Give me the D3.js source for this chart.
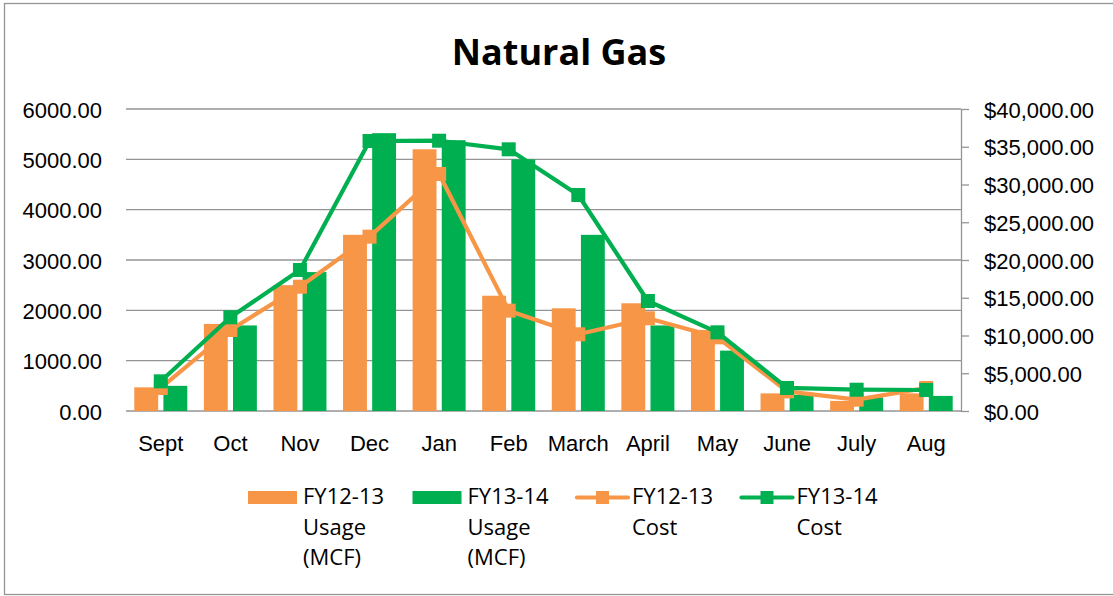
<!DOCTYPE html>
<html>
<head>
<meta charset="UTF-8">
<title>Natural Gas</title>
<style>
body {
	margin: 0 ;
	background-color: #ffffff ;
	font-family: "Open Sans", "Noto Sans", Arial, sans-serif ;
}
.grid line {
	stroke: #959595 ;
	stroke-width: 1.3 ;
}
.lbl {
	font-size: 22px ;
	fill: #000000 ;
}
</style>
<script src="https://cdn.jsdelivr.net/npm/d3@7/dist/d3.min.js"></script>
</head>
<body>
<div id="chart"></div>

<script type="text/javascript" charset="utf-8">

	// values
	var months = [ "Sept", "Oct", "Nov", "Dec", "Jan", "Feb", "March", "April", "May", "June", "July", "Aug" ] ;
	var usage1213 = [ 470, 1730, 2500, 3500, 5200, 2290, 2040, 2140, 1610, 350, 200, 350 ] ;
	var usage1314 = [ 500, 1700, 2760, 5520, 5380, 5000, 3500, 1700, 1200, 320, 270, 300 ] ;
	var cost1213 = [ 3050, 10730, 16460, 23090, 31390, 13290, 10160, 12280, 9760, 2600, 1500, 3050 ] ;
	var cost1314 = [ 3930, 12410, 18675, 35760, 35800, 34660, 28610, 14570, 10420, 3050, 2820, 2780 ] ;
	var usageTicks = [ 0, 1000, 2000, 3000, 4000, 5000, 6000 ] ;
	var costTicks = [ 0, 5000, 10000, 15000, 20000, 25000, 30000, 35000, 40000 ] ;

	var legendItems = [
		{ kind: "bar", color: "#F79646", lines: [ "FY12-13", "Usage", "(MCF)" ] },
		{ kind: "bar", color: "#00B050", lines: [ "FY13-14", "Usage", "(MCF)" ] },
		{ kind: "line", color: "#F79646", lines: [ "FY12-13", "Cost" ] },
		{ kind: "line", color: "#00B050", lines: [ "FY13-14", "Cost" ] }
	] ;

	var orange = "#F79646" ;
	var green = "#00B050" ;

	var width = 1113 ;
	var height = 596 ;
	var plot = { left: 126, right: 961, top: 109, bottom: 411 } ;

	var svg = d3.select( "#chart" ).append( "svg" )
		.attr( "width", width )
		.attr( "height", height ) ;

	svg.append( "rect" )
		.attr( "x", 4.5 ).attr( "y", 3.5 )
		.attr( "width", 1120 ).attr( "height", 591 )
		.attr( "fill", "#ffffff" )
		.attr( "stroke", "#959595" )
		.attr( "stroke-width", 1.3 ) ;

	var x = d3.scaleBand()
		.domain( months )
		.range( [ plot.left, plot.right ] ) ;

	// offsets of the two bars inside one month
	var xs = d3.scaleBand()
		.domain( [ "FY12-13", "FY13-14" ] )
		.range( [ -26.5, 26.5 ] )
		.paddingInner( 0.18 ) ;

	var yUse = d3.scaleLinear()
		.domain( [ 0, 6000 ] )
		.range( [ plot.bottom, plot.top ] ) ;

	var yCost = d3.scaleLinear()
		.domain( [ 0, 40000 ] )
		.range( [ plot.bottom, plot.top ] ) ;

	function cx( m ) { return x( m ) + x.bandwidth() / 2 ; }

	// title
	svg.append( "text" )
		.attr( "x", 559 )
		.attr( "y", 65 )
		.attr( "text-anchor", "middle" )
		.attr( "font-size", "36px" )
		.attr( "font-weight", "bold" )
		.text( "Natural Gas" ) ;

	// gridlines
	svg.append( "g" )
		.attr( "class", "grid" )
		.selectAll( "line" )
		.data( usageTicks )
		.enter()
			.append( "line" )
				.attr( "x1", plot.left )
				.attr( "x2", plot.right )
				.attr( "y1", function(d) { return yUse( d ) ; } )
				.attr( "y2", function(d) { return yUse( d ) ; } ) ;

	// left axis labels
	var leftAxis = d3.axisLeft( yUse )
		.tickValues( usageTicks )
		.tickFormat( d3.format( ".2f" ) )
		.tickSize( 0 )
		.tickPadding( 0 ) ;
	var gl = svg.append( "g" )
		.attr( "transform", "translate(102,0)" )
		.call( leftAxis ) ;
	gl.select( ".domain" ).remove() ;
	gl.selectAll( "text" )
		.attr( "class", "lbl" )
		.attr( "font-family", null )
		.attr( "font-size", null )
		.attr( "dy", "8px" ) ;

	// right axis
	var rightAxis = d3.axisRight( yCost )
		.tickValues( costTicks )
		.tickFormat( function(d) { return "$" + d3.format( ",.2f" )( d ) ; } )
		.tickSize( 8 )
		.tickPadding( 15 )
		.tickSizeOuter( 0 ) ;
	var gr = svg.append( "g" )
		.attr( "transform", "translate(" + plot.right + ",0)" )
		.call( rightAxis ) ;
	gr.selectAll( ".domain, line" )
		.attr( "stroke", "#959595" )
		.attr( "stroke-width", 1.3 ) ;
	gr.selectAll( "text" )
		.attr( "class", "lbl" )
		.attr( "font-family", null )
		.attr( "font-size", null )
		.attr( "dy", "8px" ) ;

	// month labels
	var bottomAxis = d3.axisBottom( x )
		.tickSize( 0 )
		.tickPadding( 0 ) ;
	var gb = svg.append( "g" )
		.attr( "transform", "translate(0," + plot.bottom + ")" )
		.call( bottomAxis ) ;
	gb.select( ".domain" ).remove() ;
	gb.selectAll( "text" )
		.attr( "class", "lbl" )
		.attr( "font-family", null )
		.attr( "font-size", null )
		.attr( "y", 40 )
		.attr( "dy", null ) ;

	// bars
	function drawBars( vals, key, color ) {
		svg.append( "g" )
			.selectAll( "rect" )
			.data( vals )
			.enter()
				.append( "rect" )
					.attr( "x", function(d, i) { return cx( months[i] ) + xs( key ) ; } )
					.attr( "width", xs.bandwidth() )
					.attr( "y", function(d) { return yUse( d ) ; } )
					.attr( "height", function(d) { return yUse( 0 ) - yUse( d ) ; } )
					.attr( "fill", color ) ;
	}
	drawBars( usage1213, "FY12-13", orange ) ;
	drawBars( usage1314, "FY13-14", green ) ;

	// cost lines with square markers
	function drawLine( vals, color ) {
		var line = d3.line()
			.x( function(d, i) { return cx( months[i] ) ; } )
			.y( function(d) { return yCost( d ) ; } ) ;
		var g = svg.append( "g" ) ;
		g.append( "path" )
			.datum( vals )
			.attr( "d", line )
			.attr( "fill", "none" )
			.attr( "stroke", color )
			.attr( "stroke-width", 4.2 )
			.attr( "stroke-linejoin", "round" ) ;
		g.selectAll( "rect" )
			.data( vals )
			.enter()
				.append( "rect" )
					.attr( "x", function(d, i) { return cx( months[i] ) - 7 ; } )
					.attr( "y", function(d) { return yCost( d ) - 7 ; } )
					.attr( "width", 14 )
					.attr( "height", 14 )
					.attr( "fill", color ) ;
	}
	drawLine( cost1213, orange ) ;
	drawLine( cost1314, green ) ;

	// legend
	var legend = svg.append( "g" )
		.selectAll( "g" )
		.data( legendItems )
		.enter()
			.append( "g" )
				.attr( "transform", function(d, i) { return "translate(" + ( 248 + i * 164.5 ) + ",0)" ; } ) ;

	legend.filter( function(d) { return d.kind == "bar" ; } )
		.append( "rect" )
			.attr( "x", 0 ).attr( "y", 491 )
			.attr( "width", 49 ).attr( "height", 13 )
			.attr( "fill", function(d) { return d.color ; } ) ;

	var ll = legend.filter( function(d) { return d.kind == "line" ; } ) ;
	ll.append( "line" )
		.attr( "x1", 0 ).attr( "x2", 51 )
		.attr( "y1", 497.5 ).attr( "y2", 497.5 )
		.attr( "stroke", function(d) { return d.color ; } )
		.attr( "stroke-width", 4.2 )
		.attr( "stroke-linecap", "round" ) ;
	ll.append( "rect" )
		.attr( "x", 19 ).attr( "y", 491 )
		.attr( "width", 13 ).attr( "height", 13 )
		.attr( "fill", function(d) { return d.color ; } ) ;

	legend.each( function(d) {
		var t = d3.select( this ).append( "text" )
			.attr( "class", "lbl" ) ;
		t.selectAll( "tspan" )
			.data( d.lines )
			.enter()
				.append( "tspan" )
					.attr( "x", 55 )
					.attr( "y", function(s, j) { return 504 + j * 30.5 ; } )
					.text( function(s) { return s ; } ) ;
	}) ;

</script>
</body>
</html>
